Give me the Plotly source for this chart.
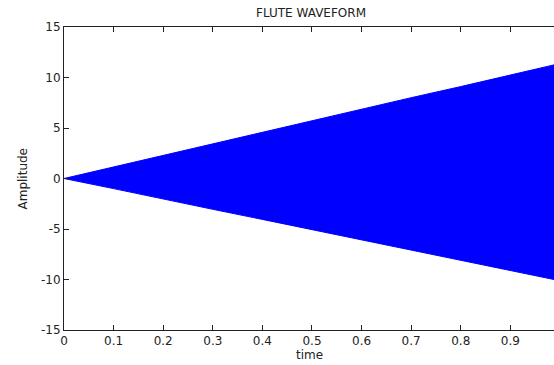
import plotly.graph_objects as go

# Envelope of the flute signal (amplitude grows roughly linearly with time)
time = [0.0, 0.1, 0.2, 0.3, 0.4, 0.5, 0.6, 0.7, 0.8, 0.9, 0.988]
upper = [0.0, 1.15, 2.3, 3.45, 4.55, 5.7, 6.85, 8.0, 9.1, 10.25, 11.25]
lower = [0.0, -1.0, -2.0, -3.05, -4.05, -5.05, -6.05, -7.1, -8.1, -9.1, -10.0]

x_ticks = [0, 0.1, 0.2, 0.3, 0.4, 0.5, 0.6, 0.7, 0.8, 0.9]
x_labels = ["0", "0.1", "0.2", "0.3", "0.4", "0.5", "0.6", "0.7", "0.8", "0.9"]
y_ticks = [-15, -10, -5, 0, 5, 10, 15]
y_labels = ["-15", "-10", "-5", "0", "5", "10", "15"]

FONT = "DejaVu Sans"
INK = "#222222"

fig = go.Figure()
fig.add_trace(go.Scatter(
    x=time + time[::-1],
    y=upper + lower[::-1],
    fill="toself",
    fillcolor="#0000ff",
    line=dict(color="#0000ff", width=1),
    mode="lines",
    hoverinfo="skip",
    showlegend=False,
))

axis_common = dict(
    showgrid=False,
    zeroline=False,
    showline=True,
    linecolor=INK,
    linewidth=1,
    ticks="inside",
    ticklen=5,
    tickwidth=1,
    tickcolor=INK,
    tickfont=dict(family=FONT, size=12, color=INK),
)

fig.update_layout(
    width=554,
    height=365,
    margin=dict(l=64, r=0, t=27, b=35),
    paper_bgcolor="white",
    plot_bgcolor="white",
    xaxis=dict(
        range=[0, 0.988],
        tickvals=x_ticks,
        ticktext=x_labels,
        mirror="ticks",
        ticklabelstandoff=0,
        **axis_common,
    ),
    yaxis=dict(
        range=[-15, 15],
        tickvals=y_ticks,
        ticktext=y_labels,
        mirror=False,
        ticklabelstandoff=0,
        **axis_common,
    ),
    title=dict(
        text="FLUTE WAVEFORM",
        font=dict(family=FONT, size=12, color=INK),
        x=311 / 554,
        xanchor="center",
        y=1 - 13 / 365,
        yanchor="middle",
    ),
    annotations=[
        dict(
            text="time", xref="paper", yref="paper",
            x=0.5, y=(330 - 355) / 303, xanchor="center", yanchor="middle",
            showarrow=False, font=dict(family=FONT, size=12, color=INK),
        ),
        dict(
            text="Amplitude", xref="paper", yref="paper",
            x=(22 - 64) / 490, y=0.5, xanchor="center", yanchor="middle",
            textangle=-90, showarrow=False,
            font=dict(family=FONT, size=12, color=INK),
        ),
    ],
)

fig.write_html("out.html")
